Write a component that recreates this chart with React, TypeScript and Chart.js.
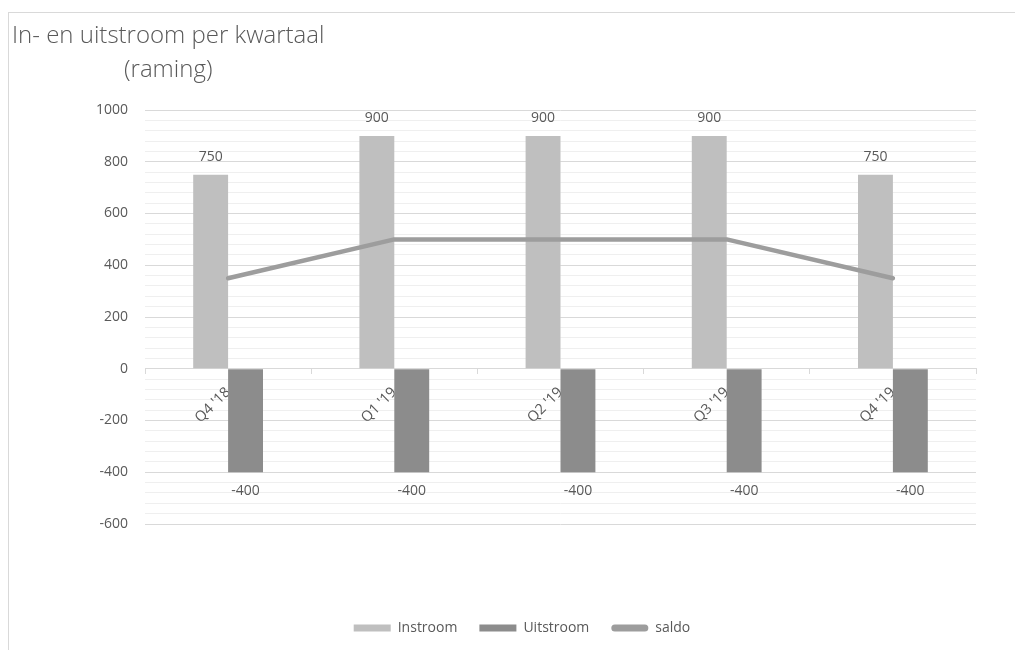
import React, { useEffect, useRef } from "react";
import { Chart, registerables } from "chart.js";

Chart.register(...registerables);

const categories = ["Q4 '18", "Q1 '19", "Q2 '19", "Q3 '19", "Q4 '19"];
const instroom = [750, 900, 900, 900, 750];
const uitstroom = [-400, -400, -400, -400, -400];
const saldo = [350, 500, 500, 500, 350];
const seriesNames = ["Instroom", "Uitstroom", "saldo"];
const titleLines = ["In- en uitstroom per kwartaal", "(raming)"];
const yMin = -600;
const yMax = 1000;
const yMinorStep = 40;
const yLabelStep = 200;

const FONT = "'Open Sans', 'Noto Sans', sans-serif";
const TEXT = "#595959";
const COLORS = ["#bfbfbf", "#8c8c8c", "#9d9d9d"];

const dataLabelPlugin = {
  id: "dataLabels",
  afterDatasetsDraw(chart: any) {
    const ctx = chart.ctx;
    ctx.save();
    ctx.font = `14px ${FONT}`;
    ctx.fillStyle = TEXT;
    ctx.textAlign = "center";
    ctx.textBaseline = "middle";
    [0, 1].forEach((di) => {
      const meta = chart.getDatasetMeta(di);
      meta.data.forEach((el: any, i: number) => {
        const v = chart.data.datasets[di].data[i] as number;
        const y = v >= 0 ? el.y - 18 : el.y + 19;
        ctx.fillText(String(v), el.x, y);
      });
    });
    ctx.restore();
  },
};

export default function App() {
  const canvasRef = useRef<HTMLCanvasElement | null>(null);

  useEffect(() => {
    document.documentElement.style.overflow = "hidden";
    document.body.style.margin = "0";
    document.body.style.overflow = "hidden";
    const canvas = canvasRef.current;
    if (!canvas) return;
    const chart = new Chart(canvas, {
      type: "bar",
      data: {
        labels: categories,
        datasets: [
          {
            type: "bar",
            label: seriesNames[0],
            data: instroom,
            backgroundColor: COLORS[0],
            barPercentage: 1,
            categoryPercentage: 0.42,
            order: 2,
          },
          {
            type: "bar",
            label: seriesNames[1],
            data: uitstroom,
            backgroundColor: COLORS[1],
            barPercentage: 1,
            categoryPercentage: 0.42,
            order: 2,
          },
          {
            type: "line",
            label: seriesNames[2],
            data: saldo,
            borderColor: COLORS[2],
            backgroundColor: COLORS[2],
            borderWidth: 4.5,
            borderCapStyle: "round",
            borderJoinStyle: "round",
            pointRadius: 0,
            tension: 0,
            order: 1,
          },
        ] as any,
      },
      options: {
        animation: false,
        responsive: false,
        maintainAspectRatio: false,
        layout: { padding: { left: 59, right: 59, top: 97, bottom: 0 } },
        plugins: {
          tooltip: { enabled: false },
          title: { display: false },
          legend: {
            position: "bottom",
            title: {
              display: true,
              text: "",
              font: { size: 12, lineHeight: 1.2 },
              padding: { top: 60.6, bottom: 0 },
            },
            labels: {
              boxWidth: 37,
              boxHeight: 7,
              padding: 22,
              color: TEXT,
              font: { size: 14, family: FONT },
              useBorderRadius: true,
              generateLabels: (c: any) =>
                c.data.datasets.map((ds: any, i: number) => ({
                  text: ds.label,
                  fillStyle: COLORS[i],
                  strokeStyle: COLORS[i],
                  lineWidth: 0,
                  hidden: false,
                  datasetIndex: i,
                  fontColor: TEXT,
                  borderRadius: i === 2 ? 3.5 : 0,
                })),
            },
          },
        },
        scales: {
          x: {
            type: "category",
            position: { y: 0 } as any,
            offset: true,
            grid: {
              offset: true,
              drawOnChartArea: false,
              drawTicks: true,
              tickLength: 5,
              color: "#d9d9d9",
            },
            border: { display: true, color: "#d9d9d9", width: 1 },
            ticks: {
              color: TEXT,
              font: { size: 14.5, family: FONT },
              minRotation: 45,
              maxRotation: 45,
              padding: 10,
              autoSkip: false,
            },
          },
          y: {
            type: "linear",
            min: yMin,
            max: yMax,
            afterFit: (scale: any) => {
              scale.width = 77;
            },
            grid: {
              drawTicks: false,
              color: (ctx: any) =>
                ctx.tick && ctx.tick.value % yLabelStep === 0 ? "#d9d9d9" : "#efefef",
              lineWidth: 1,
            },
            border: { display: false },
            ticks: {
              stepSize: yMinorStep,
              autoSkip: false,
              color: TEXT,
              font: { size: 14, family: FONT },
              padding: 17,
              callback: (v: any) => (Number(v) % yLabelStep === 0 ? String(v) : ""),
            },
          },
        },
      },
      plugins: [dataLabelPlugin],
    });
    return () => chart.destroy();
  }, []);

  return (
    <div style={{ position: "relative", width: 1015, height: 650, overflow: "hidden" }}>
      <div
        style={{
          position: "absolute",
          left: 8,
          top: 12,
          width: 1026,
          height: 660,
          borderTop: "1px solid #d9d9d9",
          borderLeft: "1px solid #d9d9d9",
          boxSizing: "border-box",
        }}
      >
        <canvas
          ref={canvasRef}
          width={1026}
          height={632}
          style={{ position: "absolute", left: 0, top: 0, width: 1026, height: 632 }}
        />
        <div
          style={{
            position: "absolute",
            left: 3,
            top: 4,
            display: "inline-block",
            textAlign: "center",
            fontFamily: FONT,
            fontSize: 24,
            lineHeight: "34px",
            color: TEXT,
            fontWeight: 300,
            whiteSpace: "nowrap",
          }}
        >
          {titleLines.map((t, i) => (
            <div key={i}>{t}</div>
          ))}
        </div>
      </div>
    </div>
  );
}
